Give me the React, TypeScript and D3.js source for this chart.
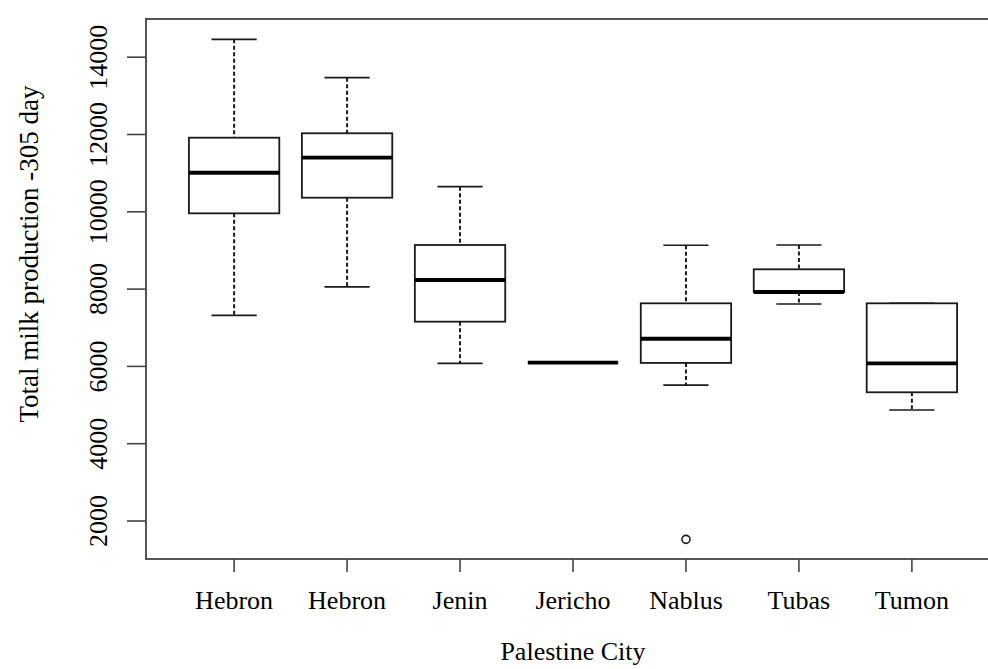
import React from "react";
import * as d3 from "d3";

// Palestine city groups and their five-number summaries (Total milk production, 305 day)
const cities = ["Hebron", "Hebron", "Jenin", "Jericho", "Nablus", "Tubas", "Tumon"];
const whiskerLow = [7320, 8060, 6080, 6100, 5515, 7614, 4872];
const q1 = [9960, 10365, 7157, 6100, 6090, 7925, 5330];
const medians = [11010, 11400, 8235, 6100, 6715, 7925, 6080];
const q3 = [11917, 12031, 9141, 6100, 7632, 8512, 7632];
const whiskerHigh = [14463, 13470, 10650, 6100, 9135, 9141, 7632];
const outlierCity = [4];
const outlierValue = [1526];
const yTicks = [2000, 4000, 6000, 8000, 10000, 12000, 14000];

const W = 988;
const H = 669;
const plot = { left: 146, right: 1000, top: 19, bottom: 559 };
const FONT = "'Liberation Serif', 'Times New Roman', serif";
const INK = "#1a1a1a";

export default function App() {
  const n = cities.length;
  const x = d3.scaleLinear().domain([0.22, n + 0.78]).range([plot.left, plot.right]);
  const y = d3.scaleLinear().domain([1017, 14988]).range([plot.bottom, plot.top]);
  const unit = x(1) - x(0);
  const boxW = 0.8 * unit;
  const capW = boxW / 2;

  return (
    <svg
      width={W}
      height={H}
      viewBox={`0 0 ${W} ${H}`}
      style={{ position: "absolute", left: 0, top: 0, background: "#fff" }}
    >
      <rect x={0} y={0} width={W} height={H} fill="#fff" />

      {/* boxes */}
      {cities.map((c, i) => {
        const cx = x(i + 1);
        const x0 = cx - boxW / 2;
        return (
          <g key={i}>
            {/* whiskers */}
            <line x1={cx} x2={cx} y1={y(whiskerHigh[i])} y2={y(q3[i])} stroke={INK} strokeWidth={2} strokeDasharray="4,2.5" />
            <line x1={cx} x2={cx} y1={y(q1[i])} y2={y(whiskerLow[i])} stroke={INK} strokeWidth={2} strokeDasharray="4,2.5" />
            <line x1={cx - capW / 2} x2={cx + capW / 2} y1={y(whiskerHigh[i])} y2={y(whiskerHigh[i])} stroke={INK} strokeWidth={1.7} />
            <line x1={cx - capW / 2} x2={cx + capW / 2} y1={y(whiskerLow[i])} y2={y(whiskerLow[i])} stroke={INK} strokeWidth={1.7} />
            {/* box */}
            <rect
              x={x0}
              y={y(q3[i])}
              width={boxW}
              height={Math.max(0, y(q1[i]) - y(q3[i]))}
              fill="#fff"
              stroke={INK}
              strokeWidth={1.8}
            />
            {/* median */}
            <line x1={x0} x2={x0 + boxW} y1={y(medians[i])} y2={y(medians[i])} stroke="#000" strokeWidth={3.8} />
          </g>
        );
      })}

      {/* outliers */}
      {outlierCity.map((ci, k) => (
        <circle key={k} cx={x(ci + 1)} cy={y(outlierValue[k])} r={4} fill="none" stroke={INK} strokeWidth={1.6} />
      ))}

      {/* frame */}
      <rect
        x={plot.left}
        y={plot.top}
        width={plot.right - plot.left}
        height={plot.bottom - plot.top}
        fill="none"
        stroke="#555"
        strokeWidth={2}
      />

      {/* y axis */}
      {yTicks.map((t) => (
        <g key={t}>
          <line x1={plot.left - 19} x2={plot.left} y1={y(t)} y2={y(t)} stroke="#444" strokeWidth={1.6} />
          <text
            transform={`translate(107,${y(t)}) rotate(-90)`}
            textAnchor="middle"
            fontFamily={FONT}
            fontSize={26}
            fill="#000"
          >
            {t}
          </text>
        </g>
      ))}

      {/* x axis */}
      {cities.map((c, i) => (
        <g key={i}>
          <line x1={x(i + 1)} x2={x(i + 1)} y1={plot.bottom} y2={plot.bottom + 13} stroke="#444" strokeWidth={1.6} />
          <text x={x(i + 1)} y={609} textAnchor="middle" fontFamily={FONT} fontSize={26} fill="#000">
            {c}
          </text>
        </g>
      ))}

      {/* axis titles */}
      <text x={(plot.left + plot.right) / 2} y={660} textAnchor="middle" fontFamily={FONT} fontSize={26} fill="#000">
        Palestine City
      </text>
      <text
        transform="translate(38,254) rotate(-90)"
        textAnchor="middle"
        fontFamily={FONT}
        fontSize={27}
        fill="#000"
      >
        Total milk production -305 day
      </text>
    </svg>
  );
}
